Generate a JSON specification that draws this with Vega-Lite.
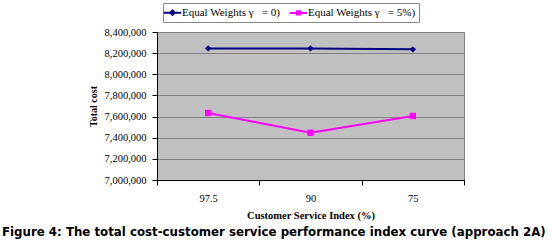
{
  "$schema": "https://vega.github.io/schema/vega-lite/v6.json",
  "width": 307,
  "height": 148,
  "autosize": {"type": "none"},
  "padding": {"left": 157, "top": 32, "right": 88, "bottom": 67},
  "background": "white",
  "config": {
    "view": {"fill": "#C0C0C0", "stroke": "#808080", "strokeWidth": 1},
    "axis": {"labelFont": "Liberation Serif", "titleFont": "Liberation Serif", "labelColor": "#000", "titleColor": "#000", "domainColor": "#000", "tickColor": "#000"}
  },
  "title": {
    "text": "Figure 4: The total cost-customer service performance index curve (approach 2A)",
    "orient": "bottom",
    "anchor": "start",
    "frame": "bounds",
    "font": "DejaVu Sans",
    "fontWeight": "bold",
    "fontSize": 11.8,
    "color": "#000",
    "offset": 6,
    "dx": -86
  },
  "data": {
    "values": [
      {"csi": "97.5", "series": "Equal Weights γ\u00a0\u00a0\u00a0= 0)", "cost": 8245000},
      {"csi": "90", "series": "Equal Weights γ\u00a0\u00a0\u00a0= 0)", "cost": 8245000},
      {"csi": "75", "series": "Equal Weights γ\u00a0\u00a0\u00a0= 0)", "cost": 8236000},
      {"csi": "97.5", "series": "Equal Weights γ\u00a0\u00a0\u00a0= 5%)", "cost": 7634000},
      {"csi": "90", "series": "Equal Weights γ\u00a0\u00a0\u00a0= 5%)", "cost": 7447000},
      {"csi": "75", "series": "Equal Weights γ\u00a0\u00a0\u00a0= 5%)", "cost": 7606000}
    ]
  },
  "encoding": {
    "x": {
      "field": "csi", "type": "nominal", "sort": ["97.5", "90", "75"],
      "scale": {"paddingInner": 0, "paddingOuter": 0},
      "axis": {"title": "Customer Service Index (%)", "labelAngle": 0, "tickBand": "extent", "tickSize": 5, "labelPadding": 8, "labelFontSize": 10.5, "titleFontSize": 10.5, "titleFontWeight": "bold", "titlePadding": 7, "grid": false}
    },
    "y": {
      "field": "cost", "type": "quantitative",
      "scale": {"domain": [7000000, 8400000], "nice": false, "zero": false},
      "axis": {"title": "Total cost", "values": [7000000, 7200000, 7400000, 7600000, 7800000, 8000000, 8200000, 8400000], "format": ",d", "tickSize": 5, "labelPadding": 6, "labelFontSize": 10.5, "titleFontSize": 10, "titleFontWeight": "bold", "titlePadding": 6, "gridColor": "#808080", "gridOpacity": 1, "gridWidth": 1}
    },
    "color": {
      "field": "series", "type": "nominal",
      "scale": {"range": ["#000080", "#FF00FF"]},
      "legend": {
        "title": null, "orient": "none", "legendX": 6, "legendY": -29, "direction": "horizontal", "columns": 2,
        "fillColor": "white", "strokeColor": "#888", "padding": 3, "columnPadding": 4,
        "labelFont": "Liberation Serif", "labelFontSize": 11, "labelColor": "#000", "labelOffset": 3,
        "symbolSize": 120, "symbolStrokeWidth": 2,
        "encode": {
          "symbols": {
            "update": {
              "shape": {"signal": "indexof(datum.label, '5%') >= 0 ? 'M-1.6,0H1.6 M-0.3,-0.3H0.3V0.3H-0.3Z' : 'M-1.6,0H1.6 M0,-0.4L0.4,0L0,0.4L-0.4,0Z'"},
              "fill": {"signal": "indexof(datum.label, '5%') >= 0 ? '#FF00FF' : '#000080'"},
              "stroke": {"signal": "indexof(datum.label, '5%') >= 0 ? '#FF00FF' : '#000080'"},
              "strokeWidth": {"value": 2}
            }
          }
        }
      }
    }
  },
  "layer": [
    {"mark": {"type": "line", "strokeWidth": 2}},
    {"mark": {"type": "point", "filled": true, "opacity": 1, "size": 40},
     "encoding": {"shape": {"field": "series", "type": "nominal", "scale": {"range": ["diamond", "square"]}, "legend": null}}}
  ]
}
